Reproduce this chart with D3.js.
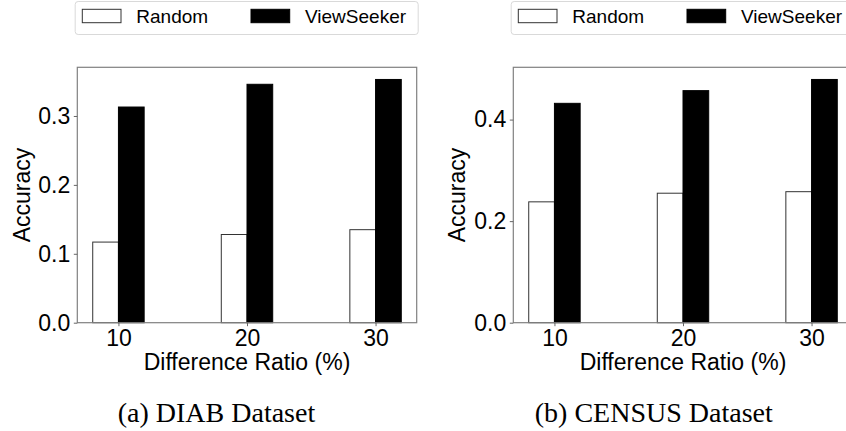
<!DOCTYPE html>
<html>
<head>
<meta charset="utf-8">
<script src="https://cdn.jsdelivr.net/npm/d3@7"></script>
<style>
  body { margin: 0; background: #fff; }
  svg { display: block; }
  .tick text { font-family: "Liberation Sans", Arial, sans-serif; font-size: 23px; fill: #000; }
  .tick line { stroke: #666; }
  .domain { stroke: none; }
</style>
</head>
<body>
<div id="chart-container"></div>
<script>
(function () {

    // values
    var ratios = [10, 20, 30];
    var seriesNames = ['Random', 'ViewSeeker'];
    var diabRandom = [0.117, 0.128, 0.135];
    var diabViewSeeker = [0.313, 0.346, 0.353];
    var censusRandom = [0.238, 0.255, 0.258];
    var censusViewSeeker = [0.432, 0.457, 0.479];
    var diabTicks = [0, 0.1, 0.2, 0.3];
    var censusTicks = [0, 0.2, 0.4];
    var captions = ['(a) DIAB Dataset', '(b) CENSUS Dataset'];

    var width = 846, height = 431;
    var plotTop = 67.3, plotBottom = 322.7, plotWidth = 339.4;
    var barWidth = 2;   // in x units, like matplotlib's width=2

    var svg = d3.select('#chart-container')
        .append('svg')
            .attr('width', width)
            .attr('height', height);

    function drawPanel(left, random, viewSeeker, ticks, labelX, legendX, captionX, caption) {
        var g = svg.append('g');

        var x = d3.scaleLinear()
            .domain([ratios[0] - barWidth - 1.2, ratios[ratios.length - 1] + barWidth + 1.2])
            .range([left, left + plotWidth]);

        var y = d3.scaleLinear()
            .domain([0, d3.max(viewSeeker.concat(random)) * 1.05])
            .range([plotBottom, plotTop]);

        // Random bars, white with outline
        g.selectAll('rect.random')
            .data(random)
            .enter().append('rect')
                .attr('class', 'random')
                .attr('x', function (d, i) { return x(ratios[i] - barWidth); })
                .attr('y', function (d) { return y(d); })
                .attr('width', function (d, i) { return x(ratios[i]) - x(ratios[i] - barWidth); })
                .attr('height', function (d) { return y(0) - y(d); })
                .attr('fill', '#fff')
                .attr('stroke', '#333')
                .attr('stroke-width', 1);

        g.selectAll('rect.vs')
            .data(viewSeeker)
            .enter().append('rect')
                .attr('class', 'vs')
                .attr('x', function (d, i) { return x(ratios[i]); })
                .attr('y', function (d) { return y(d); })
                .attr('width', function (d, i) { return x(ratios[i] + barWidth) - x(ratios[i]); })
                .attr('height', function (d) { return y(0) - y(d); })
                .attr('fill', '#000')
                .attr('stroke', '#000')
                .attr('stroke-width', 1);

        // frame
        g.append('rect')
            .attr('x', left)
            .attr('y', plotTop)
            .attr('width', plotWidth)
            .attr('height', plotBottom - plotTop)
            .attr('fill', 'none')
            .attr('stroke', '#808080')
            .attr('stroke-width', 1.2);

        g.append('g')
            .attr('transform', 'translate(0,' + plotBottom + ')')
            .call(d3.axisBottom(x).tickValues(ratios).tickSize(3.5).tickPadding(3.5).tickFormat(d3.format('d')));

        g.append('g')
            .attr('transform', 'translate(' + left + ',0)')
            .call(d3.axisLeft(y).tickValues(ticks).tickSize(3.5).tickPadding(3.5).tickFormat(d3.format('.1f')));

        g.append('text')
            .attr('x', left + plotWidth / 2)
            .attr('y', 370)
            .attr('text-anchor', 'middle')
            .style('font-family', '"Liberation Sans", Arial, sans-serif')
            .style('font-size', '23px')
            .text('Difference Ratio (%)');

        g.append('text')
            .attr('transform', 'translate(' + labelX + ',' + ((plotTop + plotBottom) / 2) + ') rotate(-90)')
            .attr('text-anchor', 'middle')
            .style('font-family', '"Liberation Sans", Arial, sans-serif')
            .style('font-size', '23px')
            .text('Accuracy');

        // legend box on top
        var legend = g.append('g')
            .attr('transform', 'translate(' + legendX + ',1)');

        legend.append('rect')
            .attr('x', 0.5)
            .attr('y', 0.5)
            .attr('width', 343)
            .attr('height', 33)
            .attr('rx', 3)
            .attr('fill', '#fff')
            .attr('stroke', '#d9d9d9');

        var entryX = [7.6, 176.3];
        seriesNames.forEach(function (name, i) {
            legend.append('rect')
                .attr('x', entryX[i])
                .attr('y', 8.3)
                .attr('width', 38.7)
                .attr('height', 13.4)
                .attr('fill', i === 0 ? '#fff' : '#000')
                .attr('stroke', i === 0 ? '#333' : '#000');
            legend.append('text')
                .attr('x', entryX[i] + 54)
                .attr('y', 21.7)
                .style('font-family', '"Liberation Sans", Arial, sans-serif')
                .style('font-size', '19px')
                .text(name);
        });

        svg.append('text')
            .attr('x', captionX)
            .attr('y', 421.7)
            .attr('text-anchor', 'middle')
            .style('font-family', '"Liberation Serif", "Times New Roman", serif')
            .style('font-size', '28px')
            .text(caption);
    }

    drawPanel(77.3, diabRandom, diabViewSeeker, diabTicks, 29.8, 74.7, 216.5, captions[0]);
    drawPanel(513.3, censusRandom, censusViewSeeker, censusTicks, 464.8, 510.7, 653.8, captions[1]);

})();
</script>
</body>
</html>
